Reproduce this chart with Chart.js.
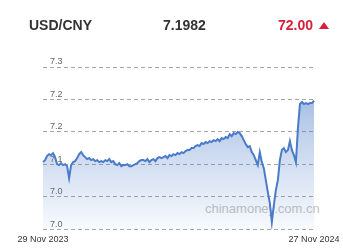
<!DOCTYPE html>
<html>
<head>
<meta charset="utf-8">
<script src="https://cdn.jsdelivr.net/npm/chart.js@4/dist/chart.umd.min.js"></script>
<style>
html,body{margin:0;padding:0;background:#fff;}
#wrap{position:relative;width:343px;height:252px;overflow:hidden;font-family:"Liberation Sans",Arial,sans-serif;}
canvas{position:absolute;left:0;top:0;z-index:2;}
.hd{position:absolute;top:17px;line-height:16px;font-size:14px;font-weight:bold;color:#333;white-space:nowrap;z-index:3;}
#wm{position:absolute;left:205px;top:201px;font-size:13px;line-height:16px;color:#c4c4c4;z-index:1;white-space:nowrap;}
#tri{display:inline-block;width:0;height:0;border-left:5px solid transparent;border-right:5px solid transparent;border-bottom:7px solid #d6203b;margin-left:6px;vertical-align:1px;}
</style>
</head>
<body>
<div id="wrap">
  <div class="hd" style="left:29px;">USD/CNY</div>
  <div class="hd" style="left:163px;">7.1982</div>
  <div class="hd" style="left:278px;color:#d6203b;">72.00<span id="tri"></span></div>
  <div id="wm">chinamoney.com.cn</div>
  <canvas id="c" width="343" height="252"></canvas>
</div>
<script>
// Reading of the USD/CNY line, left (29 Nov 2023) to right (27 Nov 2024)
const rates = [
7.1034,7.1065,7.1127,7.1157,7.1142,7.1173,7.1111,7.1003,7.0988,7.1019,
7.0988,7.1003,7.0972,7.0787,7.0988,7.1034,7.1049,7.1096,7.1157,7.1188,
7.1142,7.1111,7.1080,7.1096,7.1065,7.1080,7.1049,7.1065,7.1034,7.1049,
7.1034,7.1065,7.1049,7.1080,7.1034,7.1049,7.1003,7.0988,7.1019,7.0972,
7.0988,7.0988,7.1003,7.0972,7.0972,7.0988,7.1003,7.1019,7.1049,7.1065,
7.1065,7.1049,7.1080,7.1034,7.1065,7.1080,7.1049,7.1096,7.1111,7.1096,
7.1111,7.1127,7.1096,7.1142,7.1127,7.1157,7.1142,7.1173,7.1157,7.1188,
7.1173,7.1204,7.1219,7.1219,7.1250,7.1250,7.1281,7.1296,7.1281,7.1327,
7.1312,7.1343,7.1327,7.1358,7.1343,7.1373,7.1358,7.1389,7.1358,7.1404,
7.1389,7.1420,7.1404,7.1466,7.1435,7.1481,7.1466,7.1497,7.1481,7.1435,
7.1373,7.1312,7.1265,7.1281,7.1188,7.1142,7.1065,7.0988,7.1188,7.1034,
7.0941,7.0756,7.0571,7.0401,7.0108,7.0370,7.0602,7.0756,7.1065,7.1219,
7.1250,7.1188,7.1219,7.1358,7.1219,7.1142,7.1034,7.1559,7.1929,7.1960,
7.1929,7.1944,7.1929,7.1944,7.1944,7.1982
];
const firstDate = '29 Nov 2023';
const lastDate = '27 Nov 2024';
const yMin = 7.0;
const yMax = 7.25;
const yStep = 0.05;

const categories = rates.map((_, i) => i === 0 ? firstDate : (i === rates.length - 1 ? lastDate : ''));

new Chart(document.getElementById('c'), {
  type: 'line',
  data: {
    labels: categories,
    datasets: [{
      data: rates,
      borderColor: '#4a7bc9',
      borderWidth: 2,
      pointRadius: 0,
      tension: 0,
      fill: 'start',
      backgroundColor: (ctx) => {
        const ca = ctx.chart.chartArea;
        if (!ca) return 'rgba(74,123,201,0.3)';
        const g = ctx.chart.ctx.createLinearGradient(0, ca.top, 0, ca.bottom);
        g.addColorStop(0, 'rgba(74,123,201,0.62)');
        g.addColorStop(0.45, 'rgba(74,123,201,0.32)');
        g.addColorStop(1, 'rgba(74,123,201,0.04)');
        return g;
      }
    }]
  },
  options: {
    responsive: false,
    animation: false,
    devicePixelRatio: 1,
    layout: { padding: { left: 29, right: 29, top: 67, bottom: 2 } },
    plugins: { legend: { display: false }, tooltip: { enabled: false } },
    scales: {
      x: {
        type: 'category',
        offset: false,
        grid: { display: false, drawTicks: false },
        border: { display: false },
        afterFit: (s) => { s.paddingLeft = 0; s.paddingRight = 0; },
        ticks: {
          autoSkip: false, maxRotation: 0, minRotation: 0,
          padding: 5,
          color: '#333',
          font: { family: '"Liberation Sans", Arial, sans-serif', size: 9 },
          callback: (v, i) => categories[i]
        }
      },
      y: {
        min: yMin, max: yMax,
        grid: { color: '#a6a6a6', lineWidth: 1, drawTicks: false },
        border: { display: false, dash: [4, 3] },
        ticks: {
          stepSize: yStep,
          mirror: true,
          padding: 7,
          labelOffset: -5,
          color: '#666',
          font: { family: '"Liberation Sans", Arial, sans-serif', size: 9 },
          callback: (v) => Number(v).toFixed(1)
        }
      }
    }
  }
});
</script>
</body>
</html>
